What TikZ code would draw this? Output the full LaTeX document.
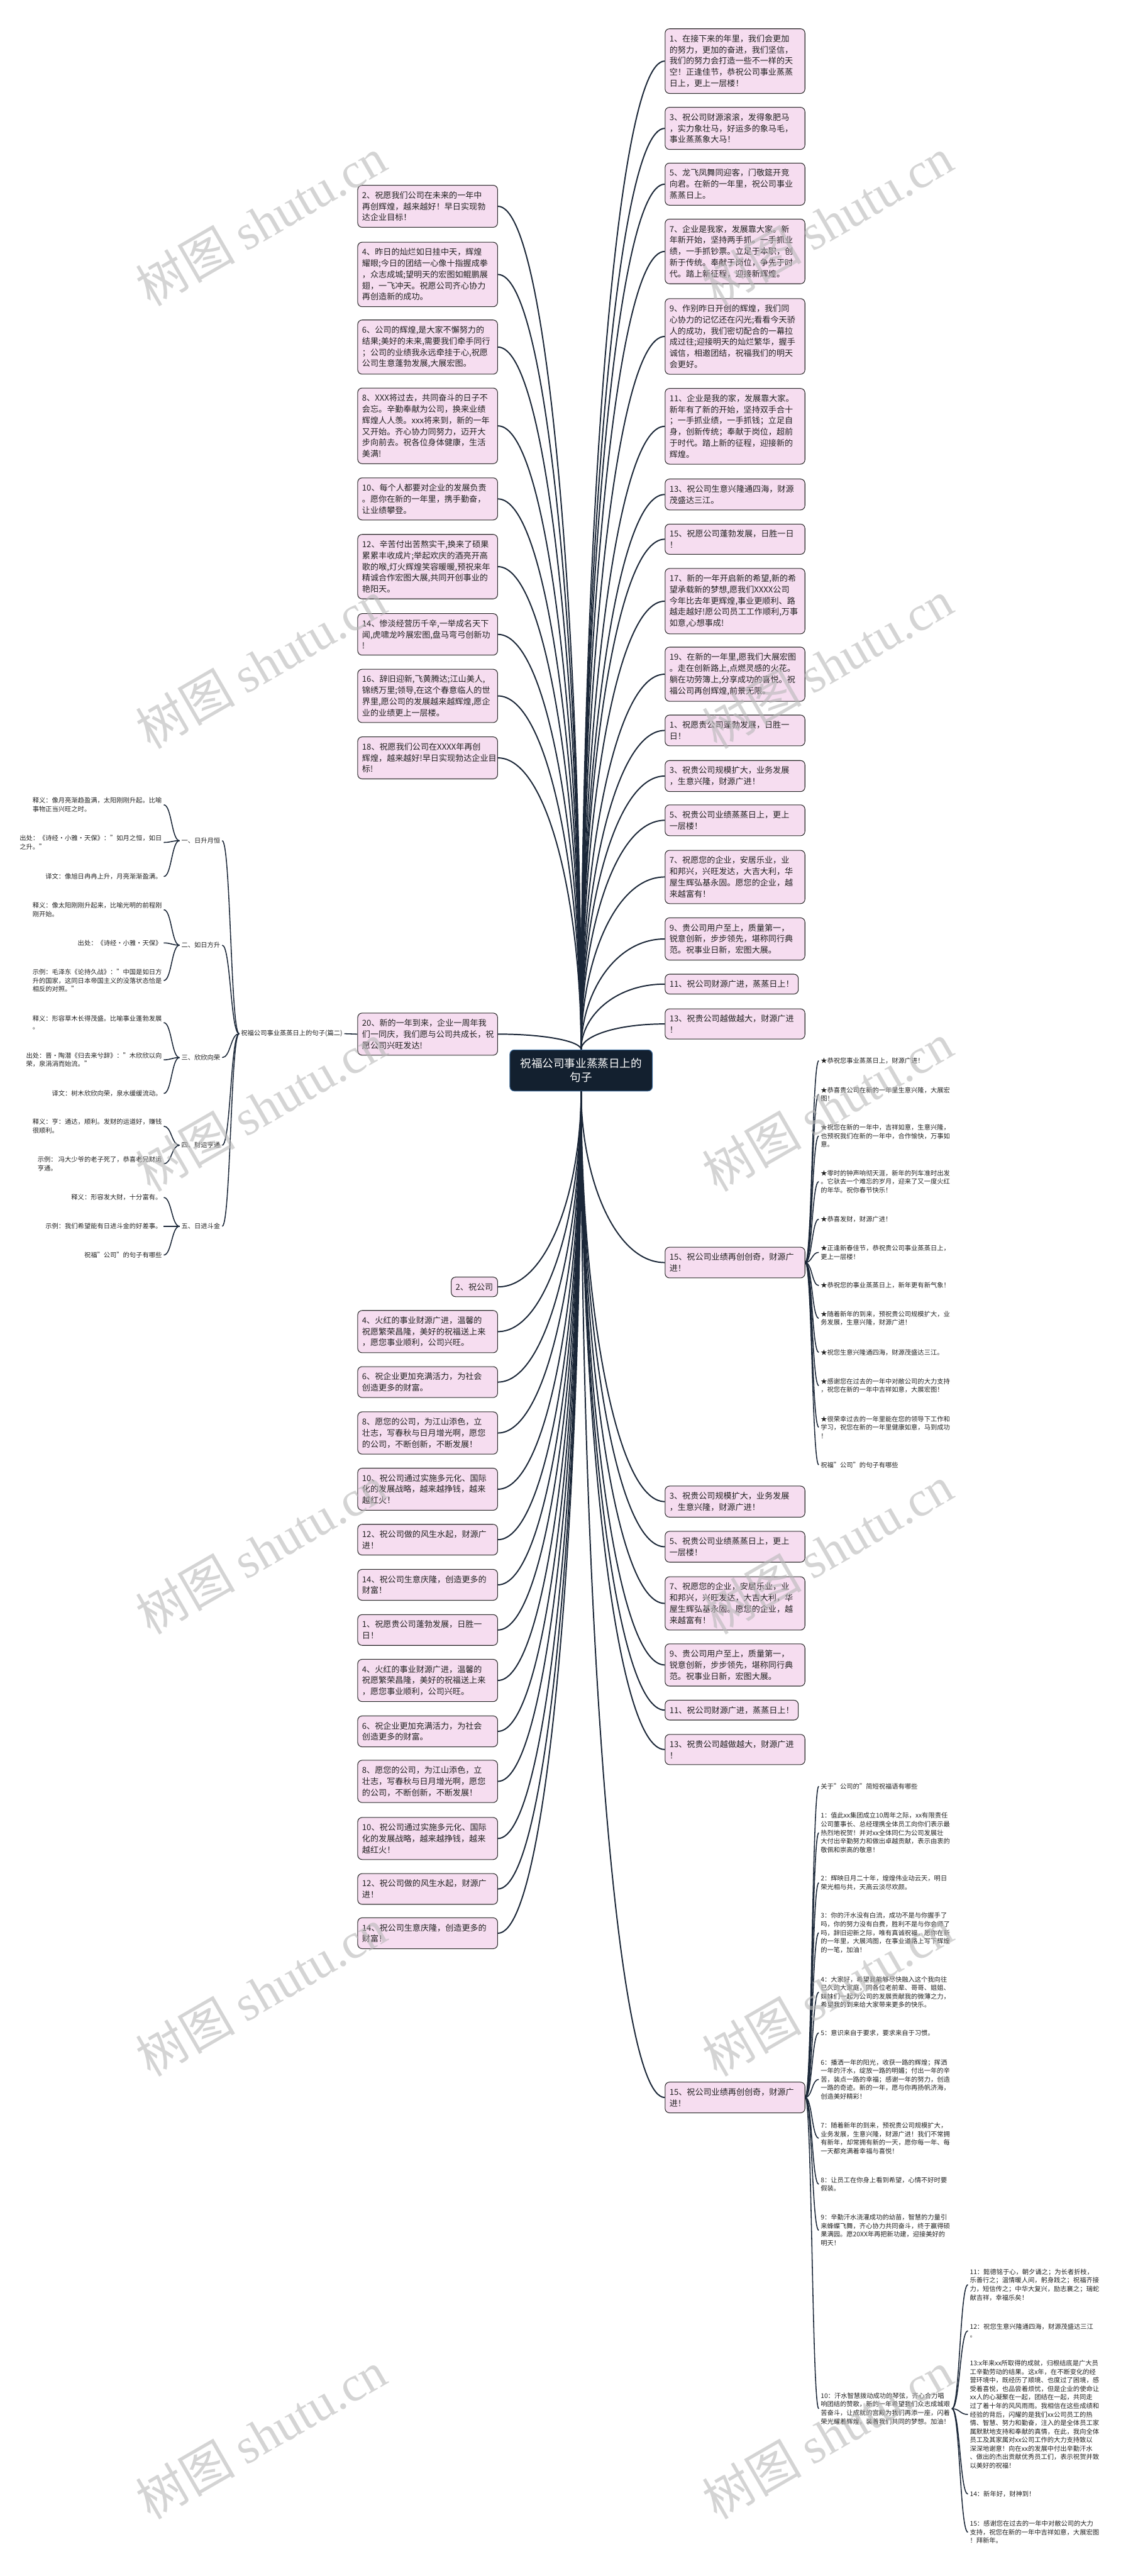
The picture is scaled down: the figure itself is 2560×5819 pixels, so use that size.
\documentclass[tikz,border=0pt]{standalone}
\usepackage{fontspec}
\setmainfont{Noto Sans CJK SC}
\newfontfamily\wmlatin{Liberation Serif}
\usetikzlibrary{calc}
\definecolor{pinkfill}{HTML}{F6DDF0}
\definecolor{boxline}{HTML}{2B2B2B}
\definecolor{linec}{HTML}{1B2738}
\definecolor{rootfill}{HTML}{13202F}
\definecolor{rootline}{HTML}{3A6A9C}
\definecolor{textc}{HTML}{222222}
\definecolor{wmc}{HTML}{B8B8B8}
\newcommand\bxfont{\fontsize{9.3pt}{12.65pt}\selectfont}
\newcommand\smfont{\fontsize{7.3pt}{9.65pt}\selectfont}
\newcommand\RBx[3]{\node[pbox,anchor=west] (#1) at (1502,#2) {#3};}
\newcommand\LBx[3]{\node[pbox,anchor=east] (#1) at (1125,#2) {#3};}
\newcommand\FLx[3]{\node[txt,anchor=east] (#1) at (370,#2) {#3};}
\newcommand\BLx[3]{\node[txt,anchor=west] (#1) at (1850,#2) {#3};}
\begin{document}
\begin{tikzpicture}[x=0.5pt,y=-0.5pt,
 pbox/.style={draw=boxline, fill=pinkfill, line width=0.75pt, rounded corners=5pt, font=\bxfont, text=textc, align=left, text width=148pt, inner xsep=5pt, inner ysep=6.8pt},
 pboxn/.style={draw=boxline, fill=pinkfill, line width=0.75pt, rounded corners=5pt, font=\bxfont, text=textc, align=left, inner xsep=5pt, inner ysep=6.8pt},
 txt/.style={font=\smfont, text=textc, align=left, inner xsep=2pt, inner ysep=0pt},
 link/.style={draw=linec, line width=1.4pt},
 thin/.style={draw=linec, line width=1.1pt},
 rootlink/.style={to path={.. controls ($(\tikztostart)!0.5!(\tikztostart|-\tikztotarget)$) and ($(\tikztotarget)!0.6!(\tikztostart|-\tikztotarget)$) .. (\tikztotarget)}},
 slink/.style={to path={.. controls ($(\tikztostart)!0.5!(\tikztostart-|\tikztotarget)$) and ($(\tikztotarget)!0.5!(\tikztotarget-|\tikztostart)$) .. (\tikztotarget)}},
 wm/.style={text=wmc, opacity=0.6, font=\fontsize{56pt}{60pt}\selectfont, anchor=south west, rotate=30, inner sep=0pt}
]
\fill[white] (0,0) rectangle (2560,5819);
\useasboundingbox (0,0) rectangle (2560,5819);

% root
\node[draw=rootline, fill=rootfill, line width=0.75pt, rounded corners=5pt, text=white, align=center, minimum width=161pt, minimum height=46.5pt, font=\fontsize{12.5pt}{15.7pt}\selectfont] (root) at (1313,2418) {祝福公司事业蒸蒸日上的\\句子};

% right upper list
\RBx{r1}{138}{1、在接下来的年里，我们会更加\\的努力，更加的奋进，我们坚信，\\我们的努力会打造一些不一样的天\\空！正逢佳节，恭祝公司事业蒸蒸\\日上，更上一层楼！}
\RBx{r3}{290}{3、祝公司财源滚滚，发得象肥马\\，实力象壮马，好运多的象马毛，\\事业蒸蒸象大马！}
\RBx{r5}{416}{5、龙飞凤舞同迎客，门敬筵开竞\\向君。在新的一年里，祝公司事业\\蒸蒸日上。}
\RBx{r7}{568}{7、企业是我家，发展靠大家。新\\年新开始，坚持两手抓。一手抓业\\绩，一手抓钞票。立足于本职，创\\新于传统。奉献于岗位，争先于时\\代。踏上新征程，迎接新辉煌。}
\RBx{r9}{760}{9、作别昨日开创的辉煌，我们同\\心协力的记忆还在闪光;看看今天骄\\人的成功，我们密切配合的一幕拉\\成过往;迎接明天的灿烂繁华，握手\\诚信，相邀团结，祝福我们的明天\\会更好。}
\RBx{r11}{963}{11、企业是我的家，发展靠大家。\\新年有了新的开始，坚持双手合十\\；一手抓业绩，一手抓钱；立足自\\身，创新传统；奉献于岗位，超前\\于时代。踏上新的征程，迎接新的\\辉煌。}
\RBx{r13}{1117}{13、祝公司生意兴隆通四海，财源\\茂盛达三江。}
\RBx{r15}{1218}{15、祝愿公司蓬勃发展，日胜一日\\！}
\RBx{r17}{1358}{17、新的一年开启新的希望,新的希\\望承载新的梦想,愿我们XXXX公司\\今年比去年更辉煌,事业更顺利、路\\越走越好!愿公司员工工作顺利,万事\\如意,心想事成!}
\RBx{r19}{1523}{19、在新的一年里,愿我们大展宏图\\。走在创新路上,点燃灵感的火花。\\躺在功劳簿上,分享成功的喜悦。祝\\福公司再创辉煌,前景无限。}
\RBx{s1}{1650}{1、祝愿贵公司蓬勃发展，日胜一\\日！}
\RBx{s3}{1753}{3、祝贵公司规模扩大，业务发展\\，生意兴隆，财源广进！}
\RBx{s5}{1853}{5、祝贵公司业绩蒸蒸日上，更上\\一层楼！}
\RBx{s7}{1981}{7、祝愿您的企业，安居乐业，业\\和邦兴，兴旺发达，大吉大利，华\\屋生辉弘基永固。愿您的企业，越\\来越富有！}
\RBx{s9}{2121}{9、贵公司用户至上，质量第一，\\锐意创新，步步领先，堪称同行典\\范。祝事业日新，宏图大展。}
\node[pboxn,anchor=west] (s11) at (1502,2223) {11、祝公司财源广进，蒸蒸日上！};
\RBx{s13}{2313}{13、祝贵公司越做越大，财源广进\\！}

% right middle
\RBx{rb}{2852}{15、祝公司业绩再创创奇，财源广\\进！}
\RBx{c3}{3392}{3、祝贵公司规模扩大，业务发展\\，生意兴隆，财源广进！}
\RBx{c5}{3494}{5、祝贵公司业绩蒸蒸日上，更上\\一层楼！}
\RBx{c7}{3622}{7、祝愿您的企业，安居乐业，业\\和邦兴，兴旺发达，大吉大利，华\\屋生辉弘基永固。愿您的企业，越\\来越富有！}
\RBx{c9}{3761}{9、贵公司用户至上，质量第一，\\锐意创新，步步领先，堪称同行典\\范。祝事业日新，宏图大展。}
\node[pboxn,anchor=west] (c11) at (1502,3863) {11、祝公司财源广进，蒸蒸日上！};
\RBx{c13}{3952}{13、祝贵公司越做越大，财源广进\\！}
\RBx{rd}{4738}{15、祝公司业绩再创创奇，财源广\\进！}

% left upper list
\LBx{l2}{466}{2、祝愿我们公司在未来的一年中\\再创辉煌，越来越好！早日实现勃\\达企业目标！}
\LBx{l4}{620}{4、昨日的灿烂如日挂中天，辉煌\\耀眼;今日的团结一心像十指握成拳\\，众志成城;望明天的宏图如鲲鹏展\\翅，一飞冲天。祝愿公司齐心协力\\再创造新的成功。}
\LBx{l6}{784}{6、公司的辉煌,是大家不懈努力的\\结果;美好的未来,需要我们牵手同行\\；公司的业绩我永远牵挂于心,祝愿\\公司生意蓬勃发展,大展宏图。}
\LBx{l8}{962}{8、XXX将过去，共同奋斗的日子不\\会忘。辛勤奉献为公司，换来业绩\\辉煌人人羡。xxx将来到，新的一年\\又开始。齐心协力同努力，迈开大\\步向前去。祝各位身体健康，生活\\美满!}
\LBx{l10}{1127}{10、每个人都要对企业的发展负责\\。愿你在新的一年里，携手勤奋，\\让业绩攀登。}
\LBx{l12}{1280}{12、辛苦付出苦熬实干,换来了硕果\\累累丰收成片;举起欢庆的酒亮开高\\歌的喉,灯火辉煌笑容暖暖,预祝来年\\精诚合作宏图大展,共同开创事业的\\艳阳天。}
\LBx{l14}{1433}{14、惨淡经营历千辛,一举成名天下\\闻,虎啸龙吟展宏图,盘马弯弓创新功\\!}
\LBx{l16}{1572}{16、辞旧迎新,飞黄腾达;江山美人,\\锦绣万里;领导,在这个春意临人的世\\界里,愿公司的发展越来越辉煌,愿企\\业的业绩更上一层楼。}
\LBx{l18}{1712}{18、祝愿我们公司在XXXX年再创\\辉煌，越来越好!早日实现勃达企业目\\标!}
\LBx{l20}{2336}{20、新的一年到来，企业一周年我\\们一同庆，我们愿与公司共成长，祝\\愿公司兴旺发达!}

% left lower list
\node[pboxn,anchor=east] (m2) at (1125,2907) {2、祝公司};
\LBx{m4}{3008}{4、火红的事业财源广进，温馨的\\祝愿繁荣昌隆，美好的祝福送上来\\，愿您事业顺利，公司兴旺。}
\LBx{m6}{3122}{6、祝企业更加充满活力，为社会\\创造更多的财富。}
\LBx{m8}{3237}{8、愿您的公司，为江山添色，立\\壮志，写春秋与日月增光啊，愿您\\的公司，不断创新，不断发展！}
\LBx{m10}{3364}{10、祝公司通过实施多元化、国际\\化的发展战略，越来越挣钱，越来\\越红火！}
\LBx{m12}{3478}{12、祝公司做的风生水起，财源广\\进！}
\LBx{m14}{3580}{14、祝公司生意庆隆，创造更多的\\财富！}
\LBx{n1}{3682}{1、祝愿贵公司蓬勃发展，日胜一\\日！}
\LBx{n4}{3796}{4、火红的事业财源广进，温馨的\\祝愿繁荣昌隆，美好的祝福送上来\\，愿您事业顺利，公司兴旺。}
\LBx{n6}{3911}{6、祝企业更加充满活力，为社会\\创造更多的财富。}
\LBx{n8}{4024}{8、愿您的公司，为江山添色，立\\壮志，写春秋与日月增光啊，愿您\\的公司，不断创新，不断发展！}
\LBx{n10}{4153}{10、祝公司通过实施多元化、国际\\化的发展战略，越来越挣钱，越来\\越红火！}
\LBx{n12}{4267}{12、祝公司做的风生水起，财源广\\进！}
\LBx{n14}{4367}{14、祝公司生意庆隆，创造更多的\\财富！}

% far-left tree
\node[txt,anchor=east] (p2) at (778,2335) {祝福公司事业蒸蒸日上的句子(篇二)};
\node[txt,anchor=east] (k1) at (502,1899) {一、日升月恒};
\node[txt,anchor=east] (k2) at (502,2135) {二、如日方升};
\node[txt,anchor=east] (k3) at (502,2389) {三、欣欣向荣};
\node[txt,anchor=east] (k4) at (502,2587) {四、财运亨通};
\node[txt,anchor=east] (k5) at (502,2770) {五、日进斗金};
\FLx{f1a}{1818}{释义：像月亮渐趋盈满，太阳刚刚升起。比喻\\事物正当兴旺之时。}
\FLx{f1b}{1903}{出处：《诗经·小雅·天保》："如月之恒，如日\\之升。"}
\FLx{f1c}{1980}{译文：像旭日冉冉上升，月亮渐渐盈满。}
\FLx{f2a}{2055}{释义：像太阳刚刚升起来，比喻光明的前程刚\\刚开始。}
\FLx{f2b}{2130}{出处：《诗经·小雅·天保》}
\FLx{f2c}{2215}{示例：毛泽东《论持久战》："中国是如日方\\升的国家，这同日本帝国主义的没落状态恰是\\相反的对照。"}
\FLx{f3a}{2310}{释义：形容草木长得茂盛。比喻事业蓬勃发展\\。}
\FLx{f3b}{2394}{出处：晋·陶潜《归去来兮辞》："木欣欣以向\\荣，泉涓涓而始流。"}
\FLx{f3c}{2470}{译文：树木欣欣向荣，泉水缓缓流动。}
\FLx{f4a}{2544}{释义：亨：通达，顺利。发财的运道好，赚钱\\很顺利。}
\FLx{f4b}{2629}{示例： 冯大少爷的老子死了，恭喜老兄财运\\亨通。}
\FLx{f5a}{2705}{释义：形容发大财，十分富有。}
\FLx{f5b}{2770}{示例：我们希望能有日进斗金的好差事。}
\FLx{f5c}{2835}{祝福"公司"的句子有哪些}

% bullets of rb
\BLx{b1}{2396}{★恭祝您事业蒸蒸日上，财源广进！}
\BLx{b2}{2472}{★恭喜贵公司在新的一年里生意兴隆，大展宏\\图！}
\BLx{b3}{2566}{★祝您在新的一年中，吉祥如意，生意兴隆，\\也预祝我们在新的一年中，合作愉快，万事如\\意。}
\BLx{b4}{2669}{★零时的钟声响彻天涯，新年的列车准时出发\\。它驮去一个难忘的岁月，迎来了又一度火红\\的年华。祝你春节快乐！}
\BLx{b5}{2754}{★恭喜发财，财源广进！}
\BLx{b6}{2829}{★正逢新春佳节，恭祝贵公司事业蒸蒸日上，\\更上一层楼！}
\BLx{b7}{2904}{★恭祝您的事业蒸蒸日上，新年更有新气象！}
\BLx{b8}{2978}{★随着新年的到来，预祝贵公司规模扩大，业\\务发展，生意兴隆，财源广进！}
\BLx{b9}{3055}{★祝您生意兴隆通四海，财源茂盛达三江。}
\BLx{b10}{3130}{★感谢您在过去的一年中对敝公司的大力支持\\，祝您在新的一年中吉祥如意，大展宏图！}
\BLx{b11}{3224}{★很荣幸过去的一年里能在您的领导下工作和\\学习，祝您在新的一年里健康如意，马到成功\\！}
\BLx{b12}{3309}{祝福"公司"的句子有哪些}

% children of rd
\BLx{d0}{4035}{关于"公司的"简短祝福语有哪些}
\BLx{d1}{4140}{1：值此xx集团成立10周年之际，xx有限责任\\公司董事长、总经理携全体员工向你们表示最\\热烈地祝贺！并对xx全体同仁为公司发展壮\\大付出辛勤努力和做出卓越贡献，表示由衷的\\敬佩和崇高的敬意！}
\BLx{d2}{4253}{2：辉映日月二十年，煌煌伟业动云天，明日\\荣光相与共，天高云淡尽欢颜。}
\BLx{d3}{4366}{3：你的汗水没有白流，成功不是与你握手了\\吗，你的努力没有白费，胜利不是与你会师了\\吗，辞旧迎新之际，唯有真诚祝福，愿你在新\\的一年里，大展鸿图，在事业道路上写下辉煌\\的一笔，加油！}
\BLx{d4}{4500}{4：大家好，希望我能够尽快融入这个我向往\\已久的大家庭，同各位老前辈、哥哥、姐姐、\\妹妹们一起为公司的发展贡献我的微薄之力，\\希望我的到来给大家带来更多的快乐。}
\BLx{d5}{4592}{5：意识来自于要求，要求来自于习惯。}
\BLx{d6}{4697}{6：播洒一年的阳光，收获一路的辉煌；挥洒\\一年的汗水，绽放一路的明媚；付出一年的辛\\苦，装点一路的幸福；感谢一年的努力，创造\\一路的奇迹。新的一年，愿与你再扬帆济海，\\创造美好精彩！}
\BLx{d7}{4830}{7：随着新年的到来，预祝贵公司规模扩大，\\业务发展，生意兴隆，财源广进！我们不常拥\\有新年，却常拥有新的一天，愿你每一年、每\\一天都充满着幸福与喜悦！}
\BLx{d8}{4934}{8：让员工在你身上看到希望，心情不好时要\\假装。}
\BLx{d9}{5038}{9：辛勤汗水浇灌成功的幼苗，智慧的力量引\\来蜂蝶飞舞，齐心协力共同奋斗，终于赢得硕\\果满园。愿20XX年再把新功建，迎接美好的\\明天！}
\BLx{d10}{5441}{10：汗水智慧拨动成功的琴弦，齐心合力唱\\响团结的赞歌，新的一年希望我们众志成城艰\\苦奋斗，让成就的宫殿为我们再添一座，闪着\\荣光耀着辉煌，装着我们共同的梦想。加油！}
\node[txt,anchor=west] (e11) at (2187,5161) {11：懿德铭于心，朝夕诵之；为长者折枝，\\乐善行之；温情暖人间，躬身践之；祝福齐接\\力，短信传之；中华大复兴，励志襄之；瑞蛇\\献吉祥，幸福乐矣！};
\node[txt,anchor=west] (e12) at (2187,5265) {12：祝您生意兴隆通四海，财源茂盛达三江\\。};
\node[txt,anchor=west] (e13) at (2187,5454) {13:x年来xx所取得的成就，归根结底是广大员\\工辛勤劳动的结果。这x年，在不断变化的经\\营环境中，既经历了顺境、也度过了困境，感\\受着喜悦，也品尝着烦忧，但是企业的使命让\\xx人的心凝聚在一起，团结在一起，共同走\\过了着十年的风风雨雨。我相信在这些成绩和\\经验的背后，闪耀的是我们xx公司员工的热\\情、智慧、努力和勤奋，注入的是全体员工家\\属默默地支持和奉献的真情，在此，我向全体\\员工及其家属对xx公司工作的大力支持致以\\深深地谢意！向在xx的发展中付出辛勤汗水\\、做出的杰出贡献优秀员工们，表示祝贺并致\\以美好的祝福！};
\node[txt,anchor=west] (e14) at (2187,5634) {14：新年好，财神到！};
\node[txt,anchor=west] (e15) at (2187,5720) {15：感谢您在过去的一年中对敝公司的大力\\支持，祝您在新的一年中吉祥如意，大展宏图\\！拜新年。};

% connectors from root
\foreach \n in {r1,r3,r5,r7,r9,r11,r13,r15,r17,r19,s1,s3,s5,s7,s9,s11,s13}
  \draw[link,rootlink] (root.north) to (\n.west);
\foreach \n in {l2,l4,l6,l8,l10,l12,l14,l16,l18,l20}
  \draw[link,rootlink] (root.north) to (\n.east);
\foreach \n in {rb,c3,c5,c7,c9,c11,c13,rd}
  \draw[link,rootlink] (root.south) to (\n.west);
\foreach \n in {m2,m4,m6,m8,m10,m12,m14,n1,n4,n6,n8,n10,n12,n14}
  \draw[link,rootlink] (root.south) to (\n.east);

% sub connectors
\draw[thin] (l20.west) -- (p2.east);
\foreach \n in {k1,k2,k3,k4,k5} \draw[thin,slink] (p2.west) to (\n.east);
\foreach \n in {f1a,f1b,f1c} \draw[thin,slink] (k1.west) to (\n.east);
\foreach \n in {f2a,f2b,f2c} \draw[thin,slink] (k2.west) to (\n.east);
\foreach \n in {f3a,f3b,f3c} \draw[thin,slink] (k3.west) to (\n.east);
\foreach \n in {f4a,f4b} \draw[thin,slink] (k4.west) to (\n.east);
\foreach \n in {f5a,f5b,f5c} \draw[thin,slink] (k5.west) to (\n.east);
\foreach \n in {b1,b2,b3,b4,b5,b6,b7,b8,b9,b10,b11,b12} \draw[thin,slink] (rb.east) to (\n.west);
\foreach \n in {d0,d1,d2,d3,d4,d5,d6,d7,d8,d9,d10} \draw[thin,slink] (rd.east) to (\n.west);
\foreach \n in {e11,e12,e13,e14,e15} \draw[thin,slink] (d10.east) to (\n.west);

% watermark
\foreach \yy in {702,1702,2702,3702,4702,5702}{
  \node[wm] (wl\yy) at (345,\yy) {树图 {\wmlatin shutu.cn}};
  \node[wm] (wr\yy) at (1625,\yy) {树图 {\wmlatin shutu.cn}};
}
\end{tikzpicture}
\end{document}
